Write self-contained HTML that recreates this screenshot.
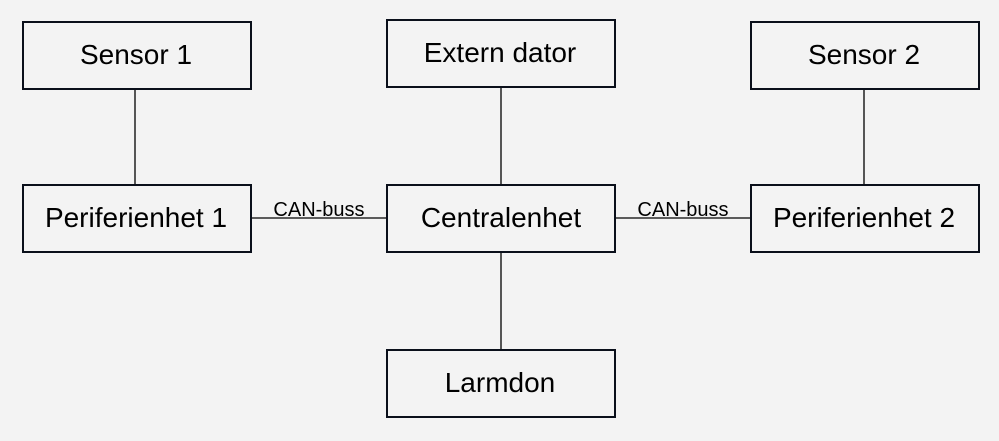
<!DOCTYPE html>
<html><head><style>
html,body{margin:0;padding:0;background:#f3f3f3;}
</style></head><body>
<svg width="999" height="441" xmlns="http://www.w3.org/2000/svg" style="display:block">
<rect width="999" height="441" fill="#f3f3f3"/>
<g stroke="#000" stroke-width="1.3">
<line x1="135" y1="89" x2="135" y2="184"/>
<line x1="501" y1="87" x2="501" y2="184"/>
<line x1="864" y1="89" x2="864" y2="184"/>
<line x1="501" y1="252" x2="501" y2="349"/>
<line x1="251" y1="218" x2="386" y2="218"/>
<line x1="615" y1="218" x2="750" y2="218"/>
</g>
<g fill="none" stroke="#0a0f1a" stroke-width="2">
<rect x="23" y="22" width="228" height="67"/>
<rect x="387" y="20" width="228" height="67"/>
<rect x="751" y="22" width="228" height="67"/>
<rect x="23" y="185" width="228" height="67"/>
<rect x="387" y="185" width="228" height="67"/>
<rect x="751" y="185" width="228" height="67"/>
<rect x="387" y="350" width="228" height="67"/>
</g>
<g font-family="Liberation Sans, sans-serif" font-size="28" text-anchor="middle" fill="#000">
<text x="136" y="64">Sensor 1</text>
<text x="500" y="62">Extern dator</text>
<text x="864" y="64">Sensor 2</text>
<text x="136" y="227">Periferienhet 1</text>
<text x="501" y="227">Centralenhet</text>
<text x="864" y="227">Periferienhet 2</text>
<text x="500" y="392">Larmdon</text>
</g>
<g font-family="Liberation Sans, sans-serif" font-size="20" text-anchor="middle" fill="#000">
<text x="319" y="216">CAN-buss</text>
<text x="683" y="216">CAN-buss</text>
</g>
</svg>
</body></html>
